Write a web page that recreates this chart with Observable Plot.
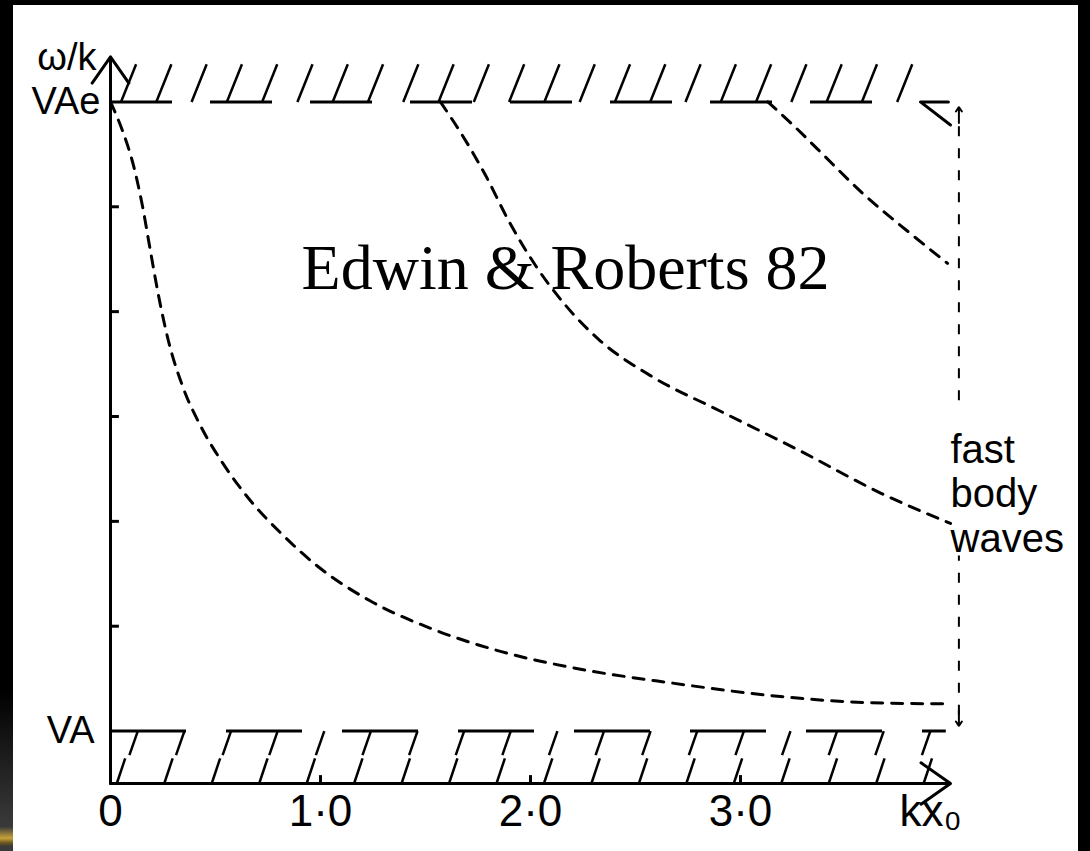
<!DOCTYPE html>
<html><head><meta charset="utf-8">
<script src="https://cdn.jsdelivr.net/npm/d3@7"></script>
<script src="https://cdn.jsdelivr.net/npm/@observablehq/plot@0.6"></script>
<style>
html,body{margin:0;padding:0;background:#000;width:1090px;height:851px;overflow:hidden;position:relative}
#chart{position:absolute;left:13px;top:5px;width:1065px;height:846px;background:#fff}
#strip{position:absolute;left:0;top:690px;width:13px;height:161px;background:linear-gradient(#000,#3a3a3a 85%,#c9a23a 92%,#6a5520 95%,#3a3a3a 97%)}
</style></head><body><div id="strip"></div><div id="chart"></div>
<script>
// axis values (kx0 along x, phase speed w/k along y: VA = 0, VAe = 6 in tick units)
const xTicks = [0, 1, 2, 3];
const xTickLabels = ["0", "1·0", "2·0", "3·0"];
const yTicks = [1, 2, 3, 4, 5];
const yVA = 0, yVAe = 6;
const xMax = 4;

// dispersion curves (fast body waves)
const mode1X = [0, 0.057, 0.11, 0.152, 0.19, 0.229, 0.276, 0.343, 0.429, 0.533, 0.657, 0.81, 1.0, 1.238, 1.524, 1.857, 2.238, 2.667, 3.19, 3.619, 3.976];
const mode1Y = [6.0, 5.725, 5.39, 5.01, 4.58, 4.15, 3.72, 3.29, 2.91, 2.56, 2.22, 1.89, 1.55, 1.24, 0.98, 0.76, 0.59, 0.46, 0.33, 0.27, 0.26];
const mode2X = [1.571, 1.676, 1.786, 1.895, 2.024, 2.167, 2.333, 2.571, 2.905, 3.286, 3.667, 4.0];
const mode2Y = [6.0, 5.68, 5.30, 4.87, 4.44, 4.06, 3.72, 3.39, 3.05, 2.67, 2.27, 1.98];
const mode3X = [3.13, 3.25, 3.367, 3.586, 3.80, 3.986];
const mode3Y = [6.0, 5.78, 5.55, 5.12, 4.76, 4.46];

// hand-drawn end of the upper boundary
const topEndX = [3.99, 3.857, 4.0];
const topEndY = [6.0, 6.0, 5.78];

const modes = [
  ...mode1X.map((x, i) => ({mode: 1, x, y: mode1Y[i]})),
  ...mode2X.map((x, i) => ({mode: 2, x, y: mode2Y[i]})),
  ...mode3X.map((x, i) => ({mode: 3, x, y: mode3Y[i]}))
];
const topEnd = topEndX.map((x, i) => ({x, y: topEndY[i]}));

// hatching of the two boundaries (decoration)
const topHatch = d3.range(0.05, 3.82, 0.168);
const lowHatchUpper = d3.range(0.13, 3.95, 0.222);
const lowHatchLower = d3.range(0.07, 3.95, 0.226);

const labelFont = "Liberation Sans, Arial, sans-serif";
const xArrowX = 4.04;

const chart = Plot.plot({
  width: 1065, height: 846,
  marginLeft: 97, marginRight: 128, marginTop: 44, marginBottom: 68,
  x: {domain: [0, xMax], axis: null},
  y: {domain: [-0.5, 6.5], axis: null},
  style: {background: "#fff", color: "#000", fontFamily: labelFont, overflow: "visible"},
  marks: [
    // upper hatched boundary at VAe
    Plot.link(topHatch, {x1: d => d, x2: d => d + 0.072, y1: yVAe, y2: yVAe + 0.36, stroke: "#000", strokeWidth: 2.5}),
    Plot.ruleY([yVAe], {x1: 0, x2: 3.78, stroke: "#000", strokeWidth: 3, strokeDasharray: "62,38"}),
    Plot.line(topEnd, {x: "x", y: "y", stroke: "#000", strokeWidth: 3}),
    // lower hatched boundary at VA
    Plot.ruleY([yVA], {x1: 0, x2: 3.98, stroke: "#000", strokeWidth: 3, strokeDasharray: "76,40"}),
    Plot.link(lowHatchUpper, {x1: d => d, x2: d => d - 0.04, y1: yVA, y2: -0.23, stroke: "#000", strokeWidth: 2.5}),
    Plot.link(lowHatchLower, {x1: d => d, x2: d => d - 0.04, y1: -0.26, y2: -0.5, stroke: "#000", strokeWidth: 2.5}),
    // axes
    Plot.arrow([0], {x1: 0, x2: 0, y1: -0.5, y2: 6.43, stroke: "#000", strokeWidth: 3, headLength: 16, headAngle: 70}),
    Plot.arrow([0], {x1: 0, x2: xMax, y1: -0.5, y2: -0.5, stroke: "#000", strokeWidth: 3, headLength: 18, headAngle: 70}),
    Plot.link(yTicks, {x1: 0, x2: 0.04, y1: d => d, y2: d => d, stroke: "#000", strokeWidth: 3}),
    Plot.link(xTicks.slice(1), {x1: d => d, x2: d => d, y1: -0.5, y2: -0.42, stroke: "#000", strokeWidth: 3}),
    Plot.text(xTicks, {x: d => d, y: -0.77, text: (d, i) => xTickLabels[i], fontSize: 44, fill: "#000"}),
    Plot.text(["kx₀"], {x: 3.905, y: -0.77, text: d => d, fontSize: 44, fill: "#000"}),
    Plot.text(["VAe"], {x: 0, y: yVAe, text: d => d, fontSize: 38, textAnchor: "end", dx: -10, fill: "#000"}),
    Plot.text(["VA"], {x: 0, y: yVA, text: d => d, fontSize: 38, textAnchor: "end", dx: -16, fill: "#000"}),
    Plot.text(["ω/k"], {x: 0, y: 6.42, text: d => d, fontSize: 38, textAnchor: "end", dx: -14, fill: "#000"}),
    // dispersion curves
    Plot.line(modes, {x: "x", y: "y", z: "mode", curve: "monotone-x", stroke: "#000", strokeWidth: 3, strokeDasharray: "11,9"}),
    // vertical double arrow marking the fast body waves band
    Plot.ruleX([xArrowX], {y1: 3.15, y2: 5.85, stroke: "#000", strokeWidth: 2, strokeDasharray: "10,12"}),
    Plot.ruleX([xArrowX], {y1: 0.15, y2: 1.67, stroke: "#000", strokeWidth: 2, strokeDasharray: "10,12"}),
    Plot.arrow([0], {x1: xArrowX, x2: xArrowX, y1: 5.8, y2: 5.95, stroke: "#000", strokeWidth: 2, headLength: 12, headAngle: 70}),
    Plot.arrow([0], {x1: xArrowX, x2: xArrowX, y1: 0.2, y2: 0.05, stroke: "#000", strokeWidth: 2, headLength: 12, headAngle: 70}),
    Plot.text(["fast\nbody\nwaves"], {x: 4.0, y: 2.27, text: d => d, fontSize: 40, lineHeight: 1.12, textAnchor: "start", fill: "#000"}),
    // title
    Plot.text(["Edwin & Roberts 82"], {x: 2.167, y: 4.41, text: d => d, fontSize: 64, fontFamily: "Liberation Serif, Times New Roman, serif", fill: "#000"})
  ]
});
document.getElementById("chart").appendChild(chart);
</script>
</body></html>
